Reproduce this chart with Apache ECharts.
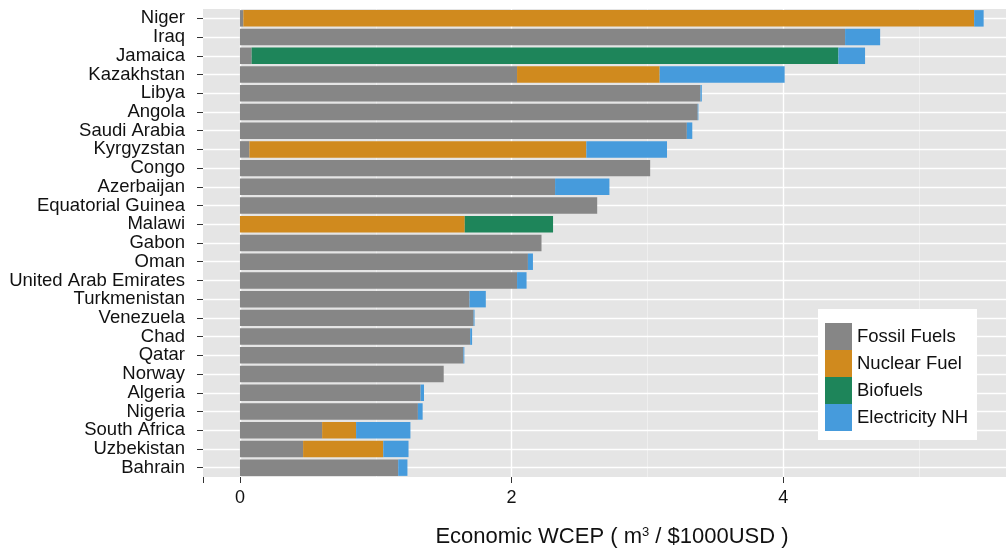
<!DOCTYPE html>
<html>
<head>
<meta charset="utf-8">
<script src="https://cdn.jsdelivr.net/npm/echarts@6/dist/echarts.min.js"></script>
<style>html,body{margin:0;padding:0;background:#fff}#c{width:1006px;height:551px}</style>
</head>
<body>
<div id="c"></div>
<script>
const countries = ["Niger","Iraq","Jamaica","Kazakhstan","Libya","Angola","Saudi Arabia","Kyrgyzstan","Congo","Azerbaijan","Equatorial Guinea","Malawi","Gabon","Oman","United Arab Emirates","Turkmenistan","Venezuela","Chad","Qatar","Norway","Algeria","Nigeria","South Africa","Uzbekistan","Bahrain"];
const fossilFuels  = [0.025,4.455,0.086,2.04,3.39,3.37,3.29,0.07,3.02,2.32,2.63,0,2.22,2.12,2.04,1.69,1.72,1.695,1.645,1.50,1.33,1.31,0.605,0.465,1.165];
const nuclearFuel  = [5.38,0,0,1.05,0,0,0,2.48,0,0,0,1.655,0,0,0,0,0,0,0,0,0,0,0.25,0.59,0];
const biofuels     = [0,0,4.32,0,0,0,0,0,0,0,0,0.65,0,0,0,0,0,0,0,0,0,0,0,0,0];
const electricityNH= [0.07,0.258,0.196,0.92,0.01,0.005,0.04,0.594,0,0.40,0,0,0,0.037,0.07,0.12,0.007,0.014,0.007,0,0.025,0.035,0.40,0.186,0.068];
const seriesNames = ["Fossil Fuels","Nuclear Fuel","Biofuels","Electricity NH"];
const colors = ["#868686","#D08A1E","#1E855A","#469BDC"];
const xTickLabels = [0,2,4];
const majorGrid = [0,2,4];
const minorGrid = [1,3,5];

const font = "Liberation Sans, Arial, sans-serif";
const chart = echarts.init(document.getElementById('c'), null, {renderer:'canvas'});
const values = [fossilFuels, nuclearFuel, biofuels, electricityNH];
const barSeries = seriesNames.map((n,i)=>({
  name:n, type:'bar', stack:'t', data:values[i], barCategoryGap:'12%',
  itemStyle:{color:colors[i]}, z:2, animation:false
}));
const lineData = [];
majorGrid.forEach(v=>lineData.push({xAxis:v, lineStyle:{color:'#ffffff', width:1.4}}));
minorGrid.forEach(v=>lineData.push({xAxis:v, lineStyle:{color:'#f4f4f4', width:0.7}}));
countries.forEach(c=>lineData.push({yAxis:c, lineStyle:{color:'#ffffff', width:1.4}}));
const gridSeries = {
  name:'grid', type:'scatter', data:[], silent:true, z:1, animation:false,
  markLine:{silent:true, symbol:['none','none'], z:1, animation:false, label:{show:false},
    lineStyle:{type:'solid'}, data:lineData}
};
chart.setOption({
  animation:false,
  textStyle:{fontFamily:font},
  grid:{left:203, width:818, top:9, bottom:74, show:true, backgroundColor:'#e5e5e5', borderWidth:0,
        outerBoundsMode:'none', containLabel:false},
  legend:{
    data:seriesNames, orient:'vertical', left:818, top:309,
    backgroundColor:'#ffffff', padding:[14,9,9,7], itemWidth:27, itemHeight:27, itemGap:0,
    icon:'rect', textStyle:{fontSize:18.5, color:'#111', fontFamily:font}
  },
  xAxis:{
    type:'value', min:-0.272, max:5.75, splitNumber:3,
    name:'Economic WCEP ( m{sup|3} / $1000USD )', nameLocation:'middle', nameGap:49,
    nameTextStyle:{fontSize:22, color:'#111', fontFamily:font,
      rich:{sup:{fontSize:13, verticalAlign:'top', color:'#111', fontFamily:font, lineHeight:10}}},
    axisLine:{show:true, onZero:false, lineStyle:{color:'#333', opacity:0}},
    axisTick:{show:true, length:6, lineStyle:{color:'#333', width:1, opacity:1}},
    axisLabel:{customValues:xTickLabels, fontSize:18, color:'#111', margin:12, fontFamily:font},
    splitLine:{show:false}
  },
  yAxis:{
    type:'category', data:countries, inverse:true,
    axisLine:{show:true, onZero:false, lineStyle:{color:'#333', opacity:0}},
    axisTick:{show:true, alignWithLabel:true, interval:0, length:6, lineStyle:{color:'#333', opacity:1}},
    axisLabel:{fontSize:18.5, color:'#111', margin:18, interval:0, fontFamily:font},
    splitLine:{show:false}
  },
  series:[gridSeries].concat(barSeries)
});
</script>
</body>
</html>
